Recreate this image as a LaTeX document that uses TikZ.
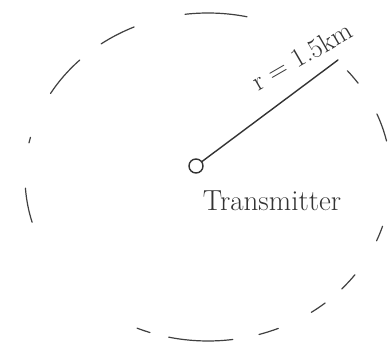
\documentclass[tikz,border=0pt]{standalone}
\usepackage{fontspec}
\begin{document}
\begin{tikzpicture}[x=1pt,y=1pt,
  pen/.style={draw=black!80,line width=1.4pt,line cap=round},
  rim/.style={pen,draw=black!75,line width=1.2pt},
  handtext/.style={text=black!80,inner sep=0pt}]
\useasboundingbox[fill=white] (0,0) rectangle (392,348);
\coordinate (c) at (208,171);
% dashed hand-drawn coverage boundary (ellipse arcs)
\foreach \a/\b in {125.7/113.8, 97.2/77.7, 149.4/134.5, 183.9/196, 40.4/34.9, 22.6/12.7,
  -17.5/-22.9, -36.6/-43.0, -50.2/-55.6, -73.8/-67.4, -102.4/-82.2, -112.8/-108.5, 168/166}
  \draw[rim] (c) ++(\a:183pt and 164pt) arc[start angle=\a, end angle=\b, x radius=183pt, y radius=164pt];
% transmitter
\node[circle,pen,minimum size=14pt,inner sep=0pt] (tx) at (196,182) {};
\coordinate (rend) at (338,288);
\draw[pen] (tx) -- (rend);
\node[handtext,rotate=30,font=\fontsize{27}{32}\selectfont] (rlab) at (302,292) {r = 1.5km};
\node[handtext,font=\fontsize{29}{34}\selectfont] (txlab) at (272,147) {Transmitter};
\end{tikzpicture}
\end{document}
